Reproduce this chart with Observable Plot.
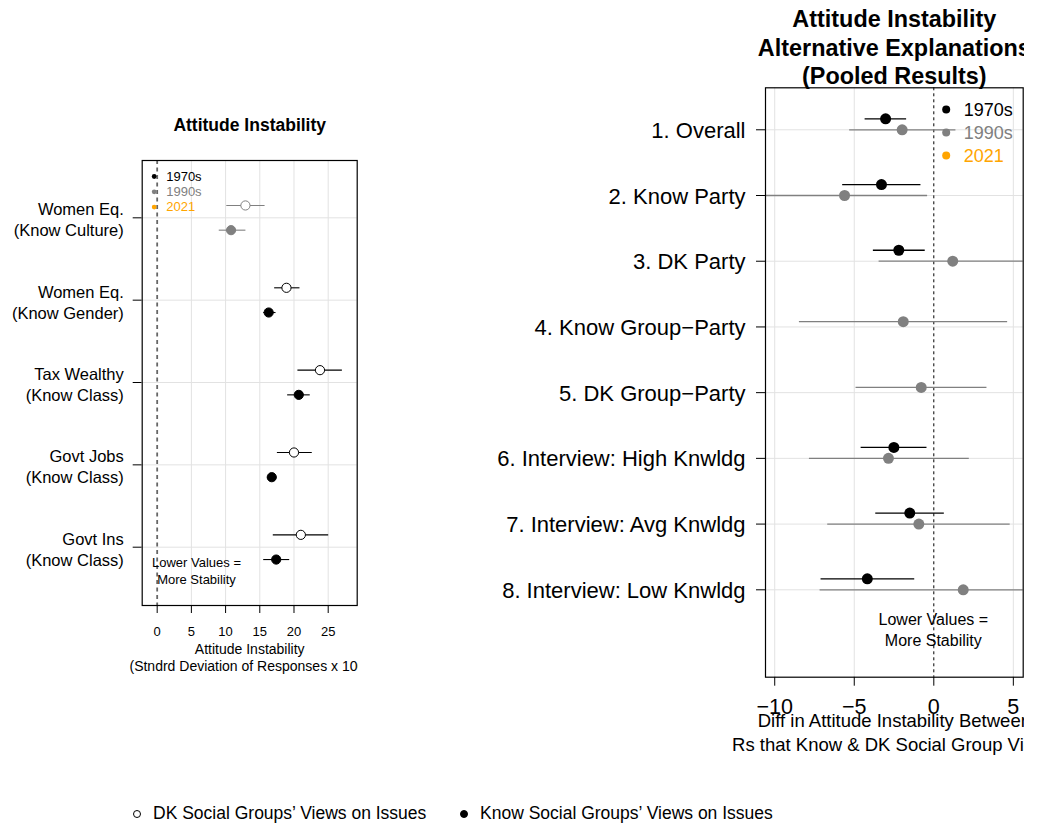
<!DOCTYPE html>
<html>
<head>
<meta charset="utf-8">
<script src="https://cdn.jsdelivr.net/npm/d3@7"></script>
<script src="https://cdn.jsdelivr.net/npm/@observablehq/plot@0.6"></script>
<style>
  body { margin: 0; background: #fff; font-family: "Liberation Sans", Arial, Helvetica, sans-serif; }
  #wrap { position: relative; width: 1037px; height: 825px; overflow: hidden; background: #fff; }
  #left { position: absolute; left: 0; top: 0; width: 358px; }
  #right { position: absolute; left: 480px; top: 0; width: 544px; }
  .leg { position: absolute; top: 802px; font-size: 17.5px; line-height: 22px; white-space: nowrap; color: #000; }
  .sym { position: absolute; border-radius: 50%; box-sizing: border-box; border: 1px solid #000; }
</style>
</head>
<body>
<div id="wrap">
  <div id="left"></div>
  <div id="right"></div>
  <div class="sym" style="left:133px; top:809.5px; width:8px; height:8px; background:#fff;"></div>
  <div class="leg" style="left:153px;">DK Social Groups’ Views on Issues</div>
  <div class="sym" style="left:460px; top:809.5px; width:8px; height:8px; background:#000;"></div>
  <div class="leg" style="left:480px;">Know Social Groups’ Views on Issues</div>
</div>
<script>
// ---------- data ----------
const legendDecades = ["1970s", "1990s", "2021"];
const decadeColors = ["#000000", "#808080", "#FFA500"];

// Left panel
const leftTitle = "Attitude Instability";
const leftCategories = ["Women Eq.\n(Know Culture)", "Women Eq.\n(Know Gender)", "Tax Wealthy\n(Know Class)", "Govt Jobs\n(Know Class)", "Govt Ins\n(Know Class)"];
const leftDecade = ["1990s", "1970s", "1970s", "1970s", "1970s"];
const leftDK     = [12.9, 18.9, 23.8, 20.0, 21.0];
const leftDKLo   = [10.1, 17.1, 20.5, 17.5, 16.9];
const leftDKHi   = [15.7, 20.8, 27.0, 22.6, 25.0];
const leftKnow   = [10.8, 16.3, 20.7, 16.75, 17.4];
const leftKnowLo = [9.0, 15.5, 19.0, 16.1, 15.5];
const leftKnowHi = [12.9, 17.3, 22.3, 17.4, 19.3];
const leftTicks = [0, 5, 10, 15, 20, 25];
const leftXLabel = "Attitude Instability\n(Stndrd Deviation of Responses x 100)";
const note = "Lower Values =\nMore Stability";

// Right panel
const rightTitle = "Attitude Instability\nAlternative Explanations\n(Pooled Results)";
const rightCategories = ["1. Overall", "2. Know Party", "3. DK Party", "4. Know Group\u2212Party", "5. DK Group\u2212Party", "6. Interview: High Knwldg", "7. Interview: Avg Knwldg", "8. Interview: Low Knwldg"];
const r1970   = [-3.03, -3.29, -2.20, null, null, -2.51, -1.51, -4.18];
const r1970Lo = [-4.35, -5.76, -3.83, null, null, -4.60, -3.68, -7.12];
const r1970Hi = [-1.74, -0.84, -0.57, null, null, -0.46, 0.63, -1.23];
const r1990   = [-1.99, -5.61, 1.19, -1.92, -0.79, -2.85, -0.94, 1.85];
const r1990Lo = [-5.32, -11.0, -3.47, -8.48, -4.92, -7.85, -6.70, -7.18];
const r1990Hi = [1.36, -0.42, 6.2, 4.61, 3.31, 2.20, 4.77, 6.5];
const rightTicks = [-10, -5, 0, 5];
const rightXLabel = "Diff in Attitude Instability Between\nRs that Know & DK Social Group Views";

// ---------- helpers ----------
const FONT = '"Liberation Sans", Arial, Helvetica, sans-serif';
const GRID = "#e2e2e2";
const colorOf = dec => decadeColors[legendDecades.indexOf(dec)];
const fmt = d => (d < 0 ? "\u2212" + Math.abs(d) : String(d));

// ---------- left panel ----------
const nL = leftCategories.length;
const leftRows = leftCategories.map((c, i) => ({cat: c, pos: nL - i, color: colorOf(leftDecade[i])}));
const leftPts = [];
leftRows.forEach((r, i) => {
  leftPts.push({type: "DK", pos: r.pos + 0.15, v: leftDK[i], lo: leftDKLo[i], hi: leftDKHi[i], color: r.color});
  leftPts.push({type: "Know", pos: r.pos - 0.15, v: leftKnow[i], lo: leftKnowLo[i], hi: leftKnowHi[i], color: r.color});
});

const leftLegendMarks = legendDecades.flatMap((d, i) => [
  Plot.dot([d], {frameAnchor: "top-left", dx: 12, dy: 16 + 15.3 * i, r: 2.4, fill: decadeColors[i], stroke: "none"}),
  Plot.text([d], {text: t => t, frameAnchor: "top-left", dx: 24, dy: 16 + 15.3 * i, textAnchor: "start", lineAnchor: "middle", fontSize: 13, fill: decadeColors[i]})
]);

const leftPlot = Plot.plot({
  width: 358, height: 690,
  marginLeft: 141.7, marginRight: 1.3, marginTop: 160, marginBottom: 85,
  style: {fontFamily: FONT, fontSize: "13px", color: "black", background: "white", overflow: "hidden"},
  x: {domain: [-2.19, 29.24], ticks: leftTicks, tickSize: 8, tickPadding: 13.5, tickFormat: fmt, label: null},
  y: {domain: [0.292, 5.696], axis: "left", ticks: leftRows.map(d => d.pos), tickSize: 9, tickFormat: () => "", label: null},
  marks: [
    Plot.ruleY(leftRows, {y: "pos", stroke: GRID, strokeWidth: 1}),
    Plot.ruleX(leftTicks.filter(t => t !== 0), {x: d => d, stroke: GRID, strokeWidth: 1}),
    Plot.ruleX([0], {x: d => d, stroke: "#666", strokeWidth: 1.8, strokeDasharray: "4,3.5"}),
    Plot.link(leftPts, {x1: "lo", x2: "hi", y1: "pos", y2: "pos", stroke: d => d.color, strokeWidth: 1.1}),
    Plot.dot(leftPts, {x: "v", y: "pos", r: 4.6, fill: d => d.type === "DK" ? "white" : d.color, stroke: d => d.color, strokeWidth: 1}),
    Plot.frame({stroke: "black", strokeWidth: 1.2}),
    Plot.text(leftRows, {y: "pos", text: "cat", frameAnchor: "left", textAnchor: "end", lineAnchor: "middle", dx: -18.4, dy: 1.2, fontSize: 16.5, lineHeight: 1.27, fill: "black"}),
    Plot.text([leftTitle], {text: d => d, frameAnchor: "top", textAnchor: "middle", lineAnchor: "top", dy: -42.4, fontSize: 17.5, fontWeight: "bold", fill: "black"}),
    Plot.text([leftXLabel], {text: d => d, frameAnchor: "bottom", textAnchor: "middle", lineAnchor: "top", dy: 37, fontSize: 14, lineHeight: 1.2, fill: "black"}),
    Plot.text([note], {text: d => d, frameAnchor: "bottom-left", textAnchor: "middle", dx: 54.3, dy: -35.6, lineAnchor: "middle", fontSize: 13, lineHeight: 1.28, fill: "black"}),
    ...leftLegendMarks
  ]
});
document.getElementById("left").appendChild(leftPlot);

// ---------- right panel ----------
const nR = rightCategories.length;
const rightRows = rightCategories.map((c, i) => ({cat: c, pos: nR - i}));
const rightPts = [];
rightRows.forEach((r, i) => {
  const has70 = r1970[i] != null;
  if (has70) rightPts.push({pos: r.pos + 0.167, v: r1970[i], lo: r1970Lo[i], hi: r1970Hi[i], color: decadeColors[0]});
  rightPts.push({pos: r.pos + (has70 ? 0 : 0.08), v: r1990[i], lo: r1990Lo[i], hi: r1990Hi[i], color: decadeColors[1]});
});
rightPts.sort((a, b) => (a.color === decadeColors[0]) - (b.color === decadeColors[0]));

const rightLegendMarks = legendDecades.flatMap((d, i) => [
  Plot.dot([d], {frameAnchor: "top-left", dx: 180.7, dy: 21.7 + 23 * i, r: 4, fill: decadeColors[i], stroke: "none"}),
  Plot.text([d], {text: t => t, frameAnchor: "top-left", dx: 198.3, dy: 22.5 + 23 * i, textAnchor: "start", lineAnchor: "middle", fontSize: 18, fill: decadeColors[i]})
]);

const rightPlot = Plot.plot({
  width: 544, height: 770,
  marginLeft: 285, marginRight: 1.3, marginTop: 87.3, marginBottom: 93.3,
  style: {fontFamily: FONT, fontSize: "21.5px", color: "black", background: "white", overflow: "hidden"},
  x: {domain: [-10.58, 5.62], ticks: rightTicks, tickSize: 9, tickPadding: 12.3, tickFormat: fmt, label: null},
  y: {domain: [-0.33, 8.639], axis: "left", ticks: rightRows.map(d => d.pos), tickSize: 9, tickFormat: () => "", label: null},
  marks: [
    Plot.ruleY(rightRows, {y: "pos", stroke: GRID, strokeWidth: 1}),
    Plot.ruleX(rightTicks.filter(t => t !== 0), {x: d => d, stroke: GRID, strokeWidth: 1}),
    Plot.ruleX([0], {x: d => d, stroke: "black", strokeWidth: 1, strokeDasharray: "3,3"}),
    Plot.link(rightPts, {x1: "lo", x2: "hi", y1: "pos", y2: "pos", stroke: d => d.color, strokeWidth: 1.3, clip: true}),
    Plot.dot(rightPts, {x: "v", y: "pos", r: 5.5, fill: d => d.color, stroke: "none", clip: true}),
    Plot.frame({stroke: "black", strokeWidth: 1.2}),
    Plot.text(rightRows, {y: "pos", text: "cat", frameAnchor: "left", textAnchor: "end", lineAnchor: "middle", dx: -20, dy: 1, fontSize: 22, fill: "black"}),
    Plot.text([rightTitle], {text: d => d, frameAnchor: "top", textAnchor: "middle", lineAnchor: "top", dy: -81, fontSize: 23.4, fontWeight: "bold", lineHeight: 1.22, fill: "black"}),
    Plot.text([rightXLabel], {text: d => d, frameAnchor: "bottom", textAnchor: "middle", lineAnchor: "top", dy: 33.5, fontSize: 18.5, lineHeight: 1.26, fill: "black"}),
    Plot.text([note], {text: d => d, frameAnchor: "bottom-left", textAnchor: "middle", dx: 167.8, dy: -48.5, lineAnchor: "middle", fontSize: 16, lineHeight: 1.31, fill: "black"}),
    ...rightLegendMarks
  ]
});
document.getElementById("right").appendChild(rightPlot);
</script>
</body>
</html>
